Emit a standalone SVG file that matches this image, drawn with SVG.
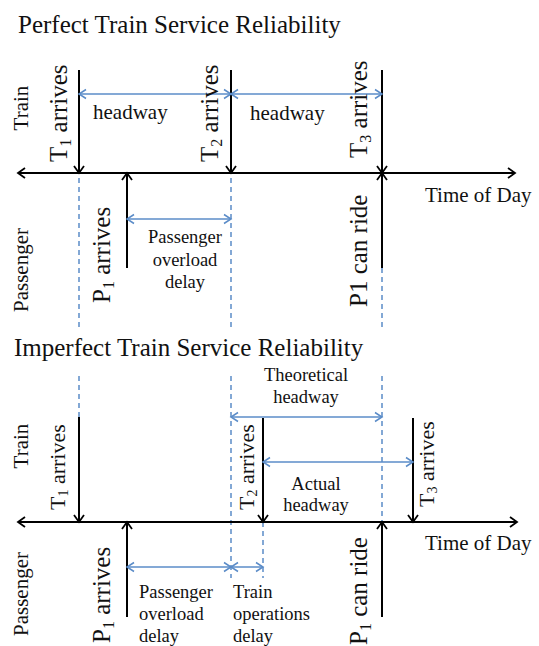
<svg xmlns="http://www.w3.org/2000/svg" width="539" height="646" viewBox="0 0 539 646">
<defs>
<marker id="ak" markerWidth="12" markerHeight="12" refX="10" refY="6" orient="auto-start-reverse" markerUnits="userSpaceOnUse"><path d="M3,1 L10,6 L3,11" fill="none" stroke="#000" stroke-width="1.8"/></marker>
<marker id="ab" markerWidth="12" markerHeight="12" refX="10" refY="6" orient="auto-start-reverse" markerUnits="userSpaceOnUse"><path d="M3,1.5 L10,6 L3,10.5" fill="none" stroke="#5b8cc8" stroke-width="1.5"/></marker>
</defs>
<style>
.t{font-size:25px}
.m{font-size:21px}
.s{font-size:18.5px}
.r{font-size:25px}
.r2{font-size:22px}
.dash{stroke:#5b8cc8;stroke-width:1.5;stroke-dasharray:5,4;fill:none}
.bl{stroke:#5b8cc8;stroke-width:1.5;fill:none;marker-start:url(#ab);marker-end:url(#ab)}
.ka{stroke:#000;stroke-width:2;fill:none;marker-end:url(#ak)}
.kk{stroke:#000;stroke-width:2;fill:none;marker-start:url(#ak);marker-end:url(#ak)}
.c{text-anchor:middle}
</style>

<g id="titles" font-family="'Times New Roman', Tinos, 'Liberation Serif', 'Nimbus Roman', 'DejaVu Serif', serif" fill="#111">
<text class="t" x="18" y="33">Perfect Train Service Reliability</text>
<text class="t" x="14" y="356">Imperfect Train Service Reliability</text>
</g>

<g id="connectors">
<line class="dash" x1="79" y1="70" x2="79" y2="327"/>
<line class="dash" x1="231" y1="70" x2="231" y2="327"/>
<line class="dash" x1="382" y1="70" x2="382" y2="327"/>
<line class="kk" x1="18" y1="173" x2="515" y2="173"/>
<line class="ka" x1="79" y1="70" x2="79" y2="173"/>
<line class="ka" x1="231" y1="70" x2="231" y2="173"/>
<line class="ka" x1="382" y1="70" x2="382" y2="173"/>
<line class="ka" x1="127" y1="268" x2="127" y2="173"/>
<line class="ka" x1="382" y1="268" x2="382" y2="173"/>
<line class="bl" x1="79" y1="94" x2="231" y2="94"/>
<line class="bl" x1="231" y1="94" x2="382" y2="94"/>
<line class="bl" x1="127" y1="219" x2="231" y2="219"/>
<line class="dash" x1="79" y1="376" x2="79" y2="522"/>
<line class="dash" x1="231" y1="376" x2="231" y2="578"/>
<line class="dash" x1="382" y1="376" x2="382" y2="522"/>
<line class="dash" x1="263" y1="522" x2="263" y2="578"/>
<line class="kk" x1="18" y1="522" x2="517" y2="522"/>
<line class="ka" x1="79" y1="417" x2="79" y2="522"/>
<line class="ka" x1="263" y1="418" x2="263" y2="522"/>
<line class="ka" x1="413" y1="418" x2="413" y2="522"/>
<line class="ka" x1="127" y1="617" x2="127" y2="522"/>
<line class="ka" x1="382" y1="617" x2="382" y2="522"/>
<line class="bl" x1="231" y1="417" x2="382" y2="417"/>
<line class="bl" x1="263" y1="462" x2="413" y2="462"/>
<line class="bl" x1="127" y1="567" x2="231" y2="567"/>
<line class="bl" x1="231" y1="567" x2="263" y2="567"/>
</g>

<g id="top-labels" font-family="'Times New Roman', Tinos, 'Liberation Serif', 'Nimbus Roman', 'DejaVu Serif', serif" fill="#111">
<text class="m c" transform="translate(28,108) rotate(-90)">Train</text>
<text class="m c" transform="translate(28,270) rotate(-90)">Passenger</text>
<text class="r" transform="translate(67,162) rotate(-90)">T<tspan font-size="16" dy="4">1</tspan><tspan dy="-4"> arrives</tspan></text>
<text class="r" transform="translate(218,162) rotate(-90)">T<tspan font-size="16" dy="4">2</tspan><tspan dy="-4"> arrives</tspan></text>
<text class="r" transform="translate(367,158) rotate(-90)">T<tspan font-size="16" dy="4">3</tspan><tspan dy="-4"> arrives</tspan></text>
<text class="r" transform="translate(110,303) rotate(-90)">P<tspan font-size="16" dy="4">1</tspan><tspan dy="-4"> arrives</tspan></text>
<text class="r" transform="translate(367,307) rotate(-90)">P1 can ride</text>
<text class="m" x="93" y="119">headway</text>
<text class="m" x="250" y="120">headway</text>
<text class="m" x="425" y="202">Time of Day</text>
<text class="s c" x="185" y="243">Passenger</text>
<text class="s c" x="185" y="266">overload</text>
<text class="s c" x="185" y="288">delay</text>
</g>

<g id="bottom-labels" font-family="'Times New Roman', Tinos, 'Liberation Serif', 'Nimbus Roman', 'DejaVu Serif', serif" fill="#111">
<text class="m c" transform="translate(28,446) rotate(-90)">Train</text>
<text class="m c" transform="translate(28,594) rotate(-90)">Passenger</text>
<text class="r2" transform="translate(65,510) rotate(-90)">T<tspan font-size="14" dy="3">1</tspan><tspan dy="-3"> arrives</tspan></text>
<text class="r2" transform="translate(254,510) rotate(-90)">T<tspan font-size="14" dy="3">2</tspan><tspan dy="-3"> arrives</tspan></text>
<text class="r2" transform="translate(434,507) rotate(-90)">T<tspan font-size="14" dy="3">3</tspan><tspan dy="-3"> arrives</tspan></text>
<text class="r" transform="translate(110,643) rotate(-90)">P<tspan font-size="16" dy="4">1</tspan><tspan dy="-4"> arrives</tspan></text>
<text class="r" transform="translate(367,645) rotate(-90)">P<tspan font-size="16" dy="4">1</tspan><tspan dy="-4"> can ride</tspan></text>
<text class="s c" x="306" y="381">Theoretical</text>
<text class="s c" x="306" y="403">headway</text>
<text class="s c" x="316" y="490">Actual</text>
<text class="s c" x="316" y="511">headway</text>
<text class="m" x="425" y="550">Time of Day</text>
<text class="s" x="139" y="598">Passenger</text>
<text class="s" x="139" y="620">overload</text>
<text class="s" x="139" y="642">delay</text>
<text class="s" x="233" y="598">Train</text>
<text class="s" x="233" y="620">operations</text>
<text class="s" x="233" y="642">delay</text>
</g>
</svg>
